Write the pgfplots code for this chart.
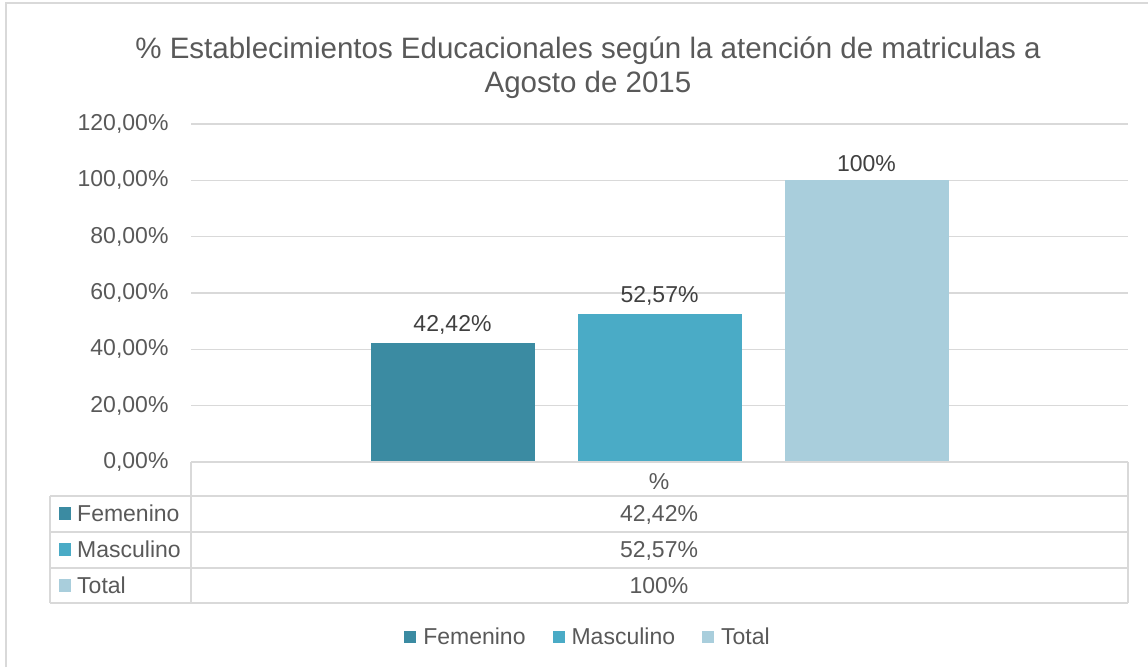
\documentclass[border=0pt]{standalone}
\usepackage{fontspec}
\setmainfont{Liberation Sans}
\usepackage{pgfplots}
\pgfplotsset{compat=1.18}
\definecolor{fem}{HTML}{3B8BA2}
\definecolor{mas}{HTML}{4AABC6}
\definecolor{tot}{HTML}{A9CEDC}
\definecolor{gridc}{HTML}{D9D9D9}
\definecolor{txt}{HTML}{595959}
\definecolor{lbl}{HTML}{404040}
\newcommand{\fs}{\fontsize{23}{27}\selectfont}
\begin{document}
\begin{tikzpicture}[x=1pt,y=1pt]
\useasboundingbox (0,0) rectangle (1148,667);
\draw[gridc,line width=1.5pt] (6,0) -- (6,664) -- (1148,664);
\node[txt,font=\fontsize{29.5}{34}\selectfont,anchor=base,inner sep=0] at (588,{667-59}) {\% Establecimientos Educacionales según la atención de matriculas a};
\node[txt,font=\fontsize{29.5}{34}\selectfont,anchor=base,inner sep=0] at (588,{667-93}) {Agosto de 2015};
\begin{axis}[
  at={(191pt,205pt)}, anchor=south west,
  scale only axis, width=937pt, height=338pt,
  ybar=43pt, bar width=164pt,
  xmin=-0.5, xmax=0.5, ymin=0, ymax=120,
  ytick={0,20,...,120}, xtick=\empty,
  major tick length=0pt,
  axis line style={draw=none},
  ymajorgrids, grid style={gridc, line width=1.5pt},
  /pgf/number format/assume math mode=true,
  yticklabel={\pgfmathprintnumber[fixed,fixed zerofill,precision=2,use comma]{\tick}\%},
  yticklabel style={font=\fs, text=txt, xshift=-19pt},
  nodes near coords, point meta=explicit symbolic,
  every node near coord/.append style={font=\fs, text=lbl, yshift=5pt},
  legend style={at={(0.4237,-0.518)}, anchor=center, draw=none, fill=none,
    legend columns=3, font=\fs, text=txt,
    /tikz/every odd column/.append style={column sep=5pt},
    /tikz/every even column/.append style={column sep=25pt}},
  legend image code/.code={\fill[#1] (0pt,-6pt) rectangle (12pt,6pt);},
]
\addplot[fill=fem, draw=none] coordinates {(0,42.42) [42,42\%]};
\addplot[fill=mas, draw=none] coordinates {(0,52.57) [52,57\%]};
\addplot[fill=tot, draw=none] coordinates {(0,100) [100\%]};
\legend{Femenino,Masculino,Total}
\end{axis}
% data table
\begin{scope}[gridc, line width=1.5pt]
\draw (191,{667-462}) -- (1128,{667-462});
\foreach \Y in {496,532,568,603} {\draw (50,{667-\Y}) -- (1128,{667-\Y});}
\draw (50,{667-496}) -- (50,{667-603});
\draw (191,{667-462}) -- (191,{667-603});
\draw (1128,{667-462}) -- (1128,{667-603});
\end{scope}
\begin{scope}[every node/.style={font=\fs, inner sep=0, text=txt}]
\node[anchor=base] at (659,{667-489}) {\%};
\node[anchor=base] at (659,{667-521}) {42,42\%};
\node[anchor=base] at (659,{667-557}) {52,57\%};
\node[anchor=base] at (659,{667-593}) {100\%};
\fill[fem] (59,{667-507}) rectangle (71,{667-520});
\fill[mas] (59,{667-543}) rectangle (71,{667-556});
\fill[tot] (59,{667-579}) rectangle (71,{667-592});
\node[anchor=base west] at (77,{667-521}) {Femenino};
\node[anchor=base west] at (77,{667-557}) {Masculino};
\node[anchor=base west] at (77,{667-593}) {Total};
\end{scope}
\end{tikzpicture}
\end{document}
